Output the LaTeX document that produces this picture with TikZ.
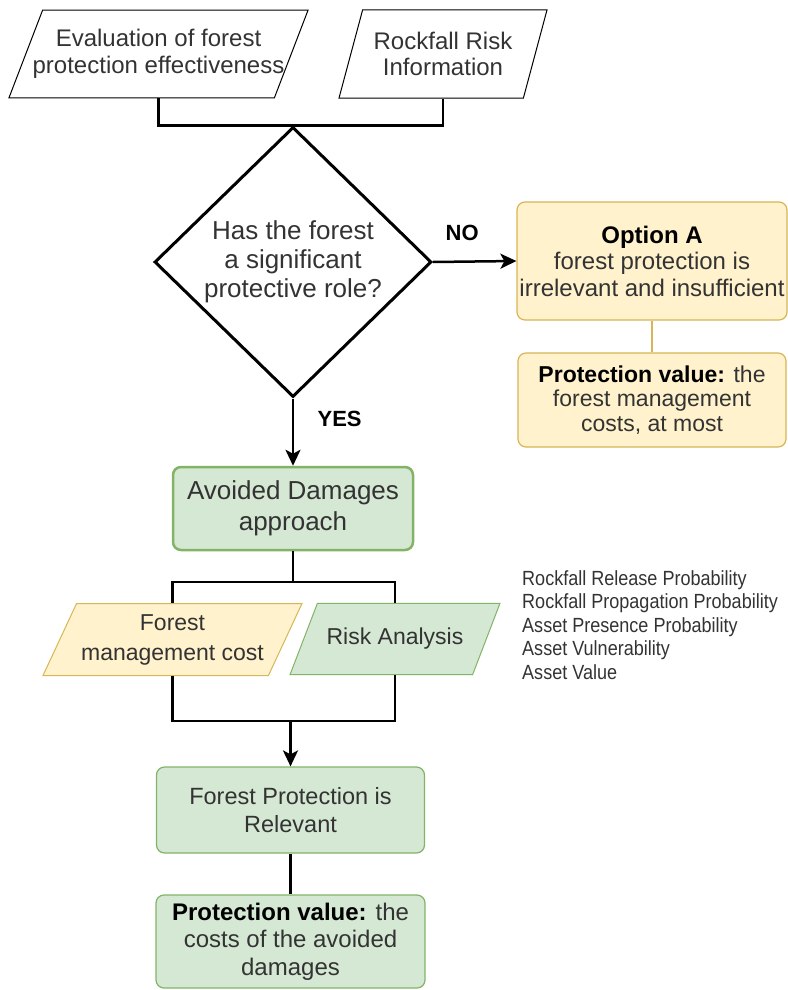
\documentclass[tikz,border=0pt]{standalone}
\usepackage{fontspec}
\setmainfont{Liberation Sans}
\newfontfamily\narrowsans[FakeStretch=0.88]{Liberation Sans}
\usepackage{xcolor}
\usetikzlibrary{shapes.geometric, arrows.meta, positioning, calc}

\definecolor{txtgray}{HTML}{333333}
\definecolor{yellowfill}{HTML}{FFF2CC}
\definecolor{yellowline}{HTML}{D6B656}
\definecolor{greenfill}{HTML}{D5E8D4}
\definecolor{greenline}{HTML}{82B366}
\newcommand{\leadword}[1]{\textbf{\color{black}#1}}

\begin{document}
\begin{tikzpicture}[x=1pt, y=-1pt,
  para/.style={trapezium, trapezium stretches body, draw=black, line width=1pt, inner xsep=0pt, align=center, text=txtgray},
  box/.style={rectangle, rounded corners=8pt, draw, line width=1.2pt, inner sep=0pt, align=center, text=txtgray},
  yellowbox/.style={box, fill=yellowfill, draw=yellowline},
  greenbox/.style={box, fill=greenfill, draw=greenline},
  link/.style={draw=black, line width=2.5pt},
  flow/.style={link, -{Stealth[length=16pt, width=15pt, inset=4pt]}}]
\useasboundingbox (0,0) rectangle (787,990);

% Inputs on top
\node[para, trapezium left angle=69, trapezium right angle=111, minimum width=297pt, inner ysep=19.5pt, inner xsep=-10pt, font=\fontsize{24}{26.5}\selectfont] (evalinfo) at (158.5,54) {Evaluation of forest\\protection effectiveness};
\node[para, trapezium left angle=75, trapezium right angle=105, minimum width=208pt, inner ysep=22pt, font=\fontsize{24}{26.5}\selectfont] (rockinfo) at (443,54) {Rockfall Risk\\Information};

% Decision
\node[diamond, draw=black, line width=3pt, minimum width=277pt, minimum height=270pt, inner sep=0pt, align=center, text=txtgray, font=\fontsize{26}{29}\selectfont] (decide) at (293,262) {Has the forest\\a significant\\protective role?};

\draw[link] (evalinfo.south) |- (decide.north);
\draw[link] (rockinfo.south) |- (decide.north);

% Option A branch
\node[yellowbox, minimum width=270pt, minimum height=118pt, font=\fontsize{24}{26.5}\selectfont] (optiona) at (652,261) {\leadword{Option A}\\forest protection is\\irrelevant and insufficient};
\node[yellowbox, minimum width=268pt, minimum height=94pt, font=\fontsize{23}{24.5}\selectfont] (protvala) at (652,400) {\leadword{Protection value:} the\\forest management\\costs, at most};

\draw[flow] (decide.east) -- (optiona.west) node[pos=0.35, above=16pt, font=\bfseries\fontsize{22}{24}\selectfont] (nolabel) {NO};
\draw[draw=yellowline, line width=2pt] (optiona.south) -- (protvala.north);

% Avoided damages branch
\node[greenbox, line width=2.5pt, minimum width=240pt, minimum height=83pt, font=\fontsize{26}{31}\selectfont] (avoided) at (293,508.5) {Avoided Damages\\approach};
\draw[flow] (decide.south) -- (avoided.north) node[pos=0.3, right=20pt, font=\bfseries\fontsize{22}{24}\selectfont] (yeslabel) {YES};

\node[para, fill=yellowfill, draw=yellowline, trapezium left angle=65, trapezium right angle=115, minimum width=259pt, inner ysep=10.7pt, font=\fontsize{23}{30}\selectfont] (mgmtcost) at (172.5,639.5) {Forest\\management cost};
\node[para, fill=greenfill, draw=greenline, trapezium left angle=69, trapezium right angle=111, minimum width=210pt, inner ysep=25pt, font=\fontsize{23}{26}\selectfont] (riskan) at (395,639) {Risk Analysis};

\node[anchor=west, inner sep=0pt, align=left, text=txtgray, font=\narrowsans\fontsize{20.5}{23.5}\selectfont] (factors) at (522,625) {Rockfall Release Probability\\Rockfall Propagation Probability\\Asset Presence Probability\\Asset Vulnerability\\Asset Value};

\coordinate (split) at (293,582);
\draw[link] (avoided.south) -- (split) -| (mgmtcost.north);
\draw[link] (split) -| (riskan.north);

% Result
\node[greenbox, minimum width=268pt, minimum height=86pt, font=\fontsize{23.5}{28}\selectfont] (relevant) at (290.5,810) {Forest Protection is\\Relevant};
\node[greenbox, minimum width=269pt, minimum height=93pt, font=\fontsize{24}{27.5}\selectfont] (protvalb) at (290.5,941.5) {\leadword{Protection value:} the\\costs of the avoided\\damages};

\coordinate (merge) at (290.5,721);
\draw[link] (mgmtcost.south) |- (merge);
\draw[link] (riskan.south) |- (merge);
\draw[flow] (merge) -- (relevant.north);
\draw[link] (relevant.south) -- (protvalb.north);
\end{tikzpicture}
\end{document}
